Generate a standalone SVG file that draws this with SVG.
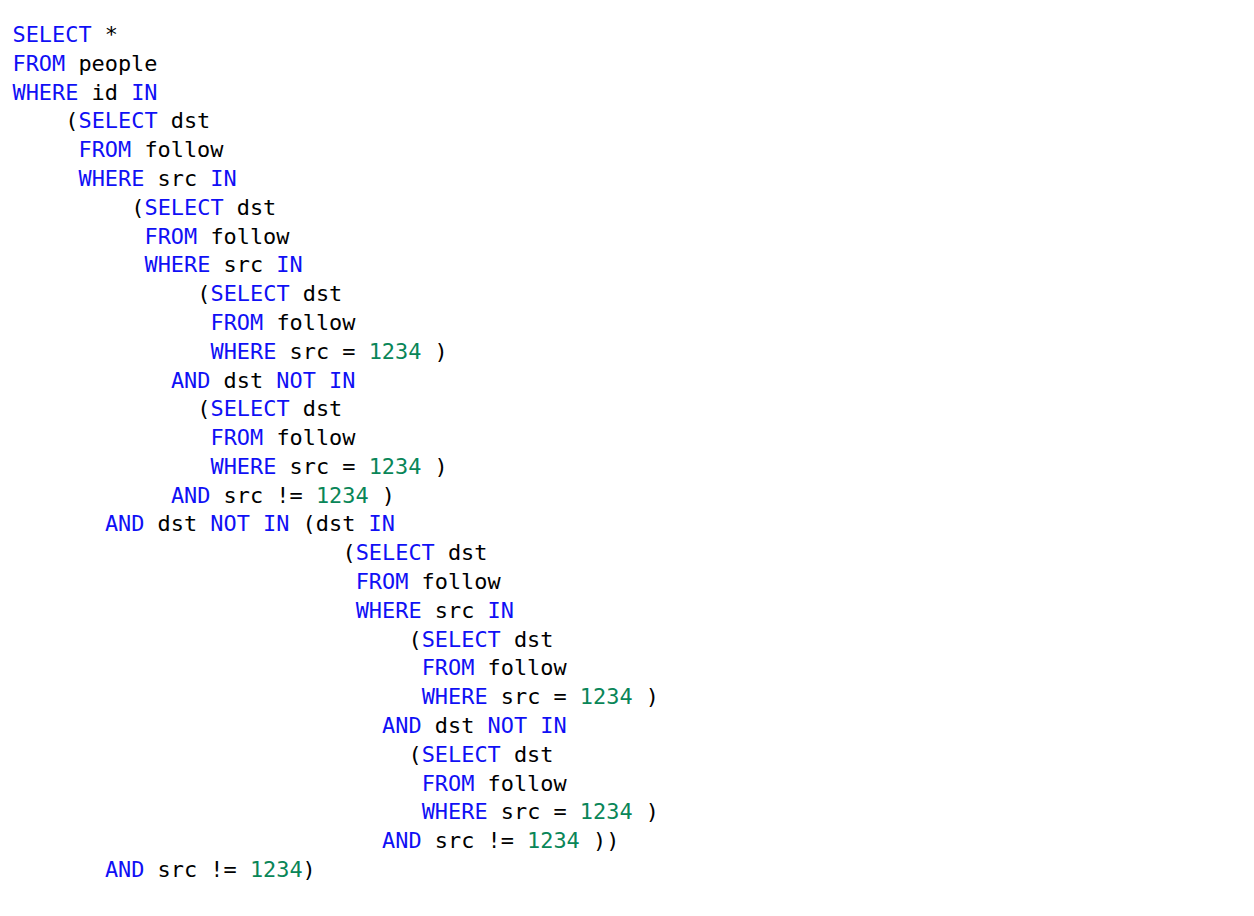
<svg xmlns="http://www.w3.org/2000/svg" width="1254" height="916" viewBox="0 0 1254 916">
<style>
text{font-family:"DejaVu Sans Mono","Liberation Mono",monospace;font-size:21.9px;fill:#000;white-space:pre}
.k{fill:#1010f5}
.n{fill:#098658}
</style>
<rect width="1254" height="916" fill="#fff"/>
<g id="code">
<text x="12.5" y="42"><tspan class="k">SELECT</tspan> *</text>
<text x="12.5" y="70.8"><tspan class="k">FROM</tspan> people</text>
<text x="12.5" y="99.6"><tspan class="k">WHERE</tspan> id <tspan class="k">IN</tspan></text>
<text x="65.3" y="128.4">(<tspan class="k">SELECT</tspan> dst</text>
<text x="78.5" y="157.2"><tspan class="k">FROM</tspan> follow</text>
<text x="78.5" y="185.9"><tspan class="k">WHERE</tspan> src <tspan class="k">IN</tspan></text>
<text x="131.3" y="214.7">(<tspan class="k">SELECT</tspan> dst</text>
<text x="144.5" y="243.5"><tspan class="k">FROM</tspan> follow</text>
<text x="144.5" y="272.3"><tspan class="k">WHERE</tspan> src <tspan class="k">IN</tspan></text>
<text x="197.3" y="301.1">(<tspan class="k">SELECT</tspan> dst</text>
<text x="210.5" y="329.9"><tspan class="k">FROM</tspan> follow</text>
<text x="210.5" y="358.7"><tspan class="k">WHERE</tspan> src = <tspan class="n">1234</tspan> )</text>
<text x="170.9" y="387.5"><tspan class="k">AND</tspan> dst <tspan class="k">NOT</tspan> <tspan class="k">IN</tspan></text>
<text x="197.3" y="416.3">(<tspan class="k">SELECT</tspan> dst</text>
<text x="210.5" y="445.1"><tspan class="k">FROM</tspan> follow</text>
<text x="210.5" y="473.9"><tspan class="k">WHERE</tspan> src = <tspan class="n">1234</tspan> )</text>
<text x="170.9" y="502.6"><tspan class="k">AND</tspan> src != <tspan class="n">1234</tspan> )</text>
<text x="104.9" y="531.4"><tspan class="k">AND</tspan> dst <tspan class="k">NOT</tspan> <tspan class="k">IN</tspan> (dst <tspan class="k">IN</tspan></text>
<text x="342.5" y="560.2">(<tspan class="k">SELECT</tspan> dst</text>
<text x="355.7" y="589"><tspan class="k">FROM</tspan> follow</text>
<text x="355.7" y="617.8"><tspan class="k">WHERE</tspan> src <tspan class="k">IN</tspan></text>
<text x="408.5" y="646.6">(<tspan class="k">SELECT</tspan> dst</text>
<text x="421.7" y="675.4"><tspan class="k">FROM</tspan> follow</text>
<text x="421.7" y="704.2"><tspan class="k">WHERE</tspan> src = <tspan class="n">1234</tspan> )</text>
<text x="382.1" y="733"><tspan class="k">AND</tspan> dst <tspan class="k">NOT</tspan> <tspan class="k">IN</tspan></text>
<text x="408.5" y="761.8">(<tspan class="k">SELECT</tspan> dst</text>
<text x="421.7" y="790.6"><tspan class="k">FROM</tspan> follow</text>
<text x="421.7" y="819.3"><tspan class="k">WHERE</tspan> src = <tspan class="n">1234</tspan> )</text>
<text x="382.1" y="848.1"><tspan class="k">AND</tspan> src != <tspan class="n">1234</tspan> ))</text>
<text x="104.9" y="876.9"><tspan class="k">AND</tspan> src != <tspan class="n">1234</tspan>)</text>
</g>
</svg>
